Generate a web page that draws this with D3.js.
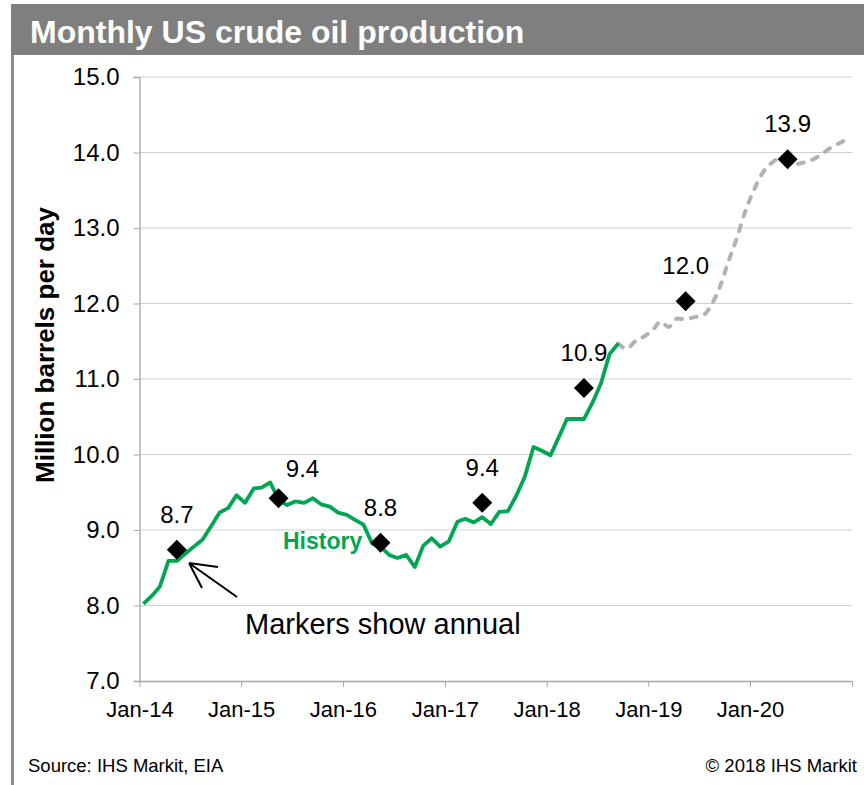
<!DOCTYPE html>
<html>
<head>
<meta charset="utf-8">
<script src="https://cdn.jsdelivr.net/npm/d3@7"></script>
<style>
  body { margin: 0; background: #fff; }
  text { font-family: Arial, "Liberation Sans", sans-serif; }
</style>
</head>
<body>
<svg id="chart" width="864" height="785"></svg>
<script>
// monthly production, million b/d
var historyStart = [2014, 0];   // Jan-14
var historyValues = [
  8.02, 8.13, 8.25, 8.59, 8.59, 8.69, 8.78, 8.87, 9.05, 9.23, 9.29, 9.46,
  9.36, 9.55, 9.56, 9.63, 9.40, 9.33, 9.38, 9.36, 9.42, 9.34, 9.31, 9.23,
  9.20, 9.13, 9.07, 8.82, 8.78, 8.67, 8.63, 8.67, 8.51, 8.79, 8.89, 8.78,
  8.85, 9.11, 9.15, 9.10, 9.17, 9.08, 9.24, 9.25, 9.46, 9.71, 10.10, 10.05,
  9.99, 10.24, 10.47, 10.47, 10.47, 10.69, 10.94, 11.33, 11.47
];
var forecastStart = [2018, 8];  // Sep-18
var forecastValues = [
  11.47, 11.40, 11.50, 11.56,
  11.64, 11.76, 11.69, 11.80, 11.79, 11.82, 11.84, 11.98, 12.22, 12.55, 12.87, 13.22,
  13.50, 13.73, 13.85, 13.92, 13.90, 13.85, 13.87, 13.91, 13.98, 14.06, 14.12, 14.18
];
// annual averages
var annualYears = [2014, 2015, 2016, 2017, 2018, 2019, 2020];
var annualValues = [8.74, 9.42, 8.83, 9.36, 10.88, 12.03, 13.91];

var yTicks = [7, 8, 9, 10, 11, 12, 13, 14, 15];
var xTickYears = [2014, 2015, 2016, 2017, 2018, 2019, 2020, 2021];
var xTickLabels = ["Jan-14", "Jan-15", "Jan-16", "Jan-17", "Jan-18", "Jan-19", "Jan-20", ""];

var green = "#00a651", dashGray = "#b2b2b6";

function monthly(start, vals) {
  return vals.map(function (v, i) {
    return { date: new Date(start[0], start[1] + i, 15), value: v };
  });
}
var hist = monthly(historyStart, historyValues);
var fcst = monthly(forecastStart, forecastValues);
var annual = annualYears.map(function (yr, i) {
  return { date: new Date(yr, 4, 15), value: annualValues[i] };
});

var svg = d3.select("#chart");

// title bar + left rule
svg.append("rect").attr("x", 11).attr("y", 4).attr("width", 853).attr("height", 51).attr("fill", "#7f7f7f");
svg.append("rect").attr("x", 11).attr("y", 55).attr("width", 3).attr("height", 730).attr("fill", "#8c8c8c");
svg.append("text").attr("x", 30).attr("y", 43)
  .attr("fill", "#fff").attr("font-size", 32).attr("font-weight", "bold")
  .text("Monthly US crude oil production");

var x = d3.scaleTime().domain([new Date(2014, 0, 1), new Date(2021, 0, 1)]).range([139.5, 852]);
var y = d3.scaleLinear().domain([7, 15]).range([681, 77]);

// gridlines
svg.append("g").selectAll("line").data(yTicks.slice(1)).join("line")
  .attr("x1", 140).attr("x2", 852)
  .attr("y1", function (d) { return y(d); }).attr("y2", function (d) { return y(d); })
  .attr("stroke", "#cfcfcf").attr("stroke-width", 1.2);

// y axis
var yAxis = svg.append("g").attr("transform", "translate(139.5,0)")
  .call(d3.axisLeft(y).tickValues(yTicks).tickFormat(d3.format(".1f")).tickSize(6).tickPadding(14));
yAxis.select(".domain").attr("stroke", "#a6a6a6").attr("stroke-width", 1.3);
yAxis.selectAll(".tick line").attr("stroke", "#a6a6a6");
yAxis.selectAll("text").attr("font-size", 24).attr("fill", "#000")
  .style("font-family", "Arial, 'Liberation Sans', sans-serif");

// x axis
var xAxis = svg.append("g").attr("transform", "translate(0,681)")
  .call(d3.axisBottom(x).tickValues(xTickYears.map(function (yr) { return new Date(yr, 0, 1); }))
    .tickFormat(function (d, i) { return xTickLabels[i]; }).tickSize(6).tickSizeOuter(0).tickPadding(14));
xAxis.select(".domain").attr("stroke", "#a6a6a6").attr("stroke-width", 1.3);
xAxis.selectAll(".tick line").attr("stroke", "#a6a6a6");
xAxis.selectAll("text").attr("font-size", 22).attr("fill", "#000")
  .style("font-family", "Arial, 'Liberation Sans', sans-serif");

// y title
svg.append("text")
  .attr("transform", "translate(54,345) rotate(-90)")
  .attr("text-anchor", "middle").attr("font-size", 26).attr("font-weight", "bold")
  .text("Million barrels per day");

// lines
var line = d3.line().x(function (d) { return x(d.date); }).y(function (d) { return y(d.value); });
svg.append("path").datum(fcst)
  .attr("d", line.curve(d3.curveMonotoneX)(fcst))
  .attr("fill", "none").attr("stroke", dashGray).attr("stroke-width", 4)
  .attr("stroke-dasharray", "6,9").attr("stroke-linecap", "round");
svg.append("path").datum(hist)
  .attr("d", line.curve(d3.curveLinear)(hist))
  .attr("fill", "none").attr("stroke", green).attr("stroke-width", 3.8)
  .attr("stroke-linejoin", "round");

// annual markers
svg.append("g").selectAll("path").data(annual).join("path")
  .attr("d", d3.symbol(d3.symbolSquare, 200))
  .attr("transform", function (d) { return "translate(" + x(d.date) + "," + y(d.value) + ") rotate(45)"; })
  .attr("fill", "#000");
svg.append("g").selectAll("text").data(annual).join("text")
  .attr("x", function (d, i) { return x(d.date) + (i === 1 ? 24 : 0); })
  .attr("y", function (d, i) { return y(d.value) - (i === 1 ? 21 : 27); })
  .attr("text-anchor", "middle").attr("font-size", 24)
  .text(function (d) { return d3.format(".1f")(d.value); });

// annotations
svg.append("text").attr("x", 283).attr("y", 549)
  .attr("font-size", 23).attr("font-weight", "bold").attr("fill", green).text("History");
svg.append("path")
  .attr("d", "M237,597 L189,563 M189,563 L218,567 M189,563 L202,588")
  .attr("fill", "none").attr("stroke", "#000").attr("stroke-width", 2);
svg.append("text").attr("x", 245).attr("y", 634).attr("font-size", 29).text("Markers show annual");

// footer
svg.append("text").attr("x", 28).attr("y", 772).attr("font-size", 18.5).text("Source: IHS Markit, EIA");
svg.append("text").attr("x", 857).attr("y", 772).attr("text-anchor", "end").attr("font-size", 18.5)
  .text("\u00a9 2018 IHS Markit");
</script>
</body>
</html>
